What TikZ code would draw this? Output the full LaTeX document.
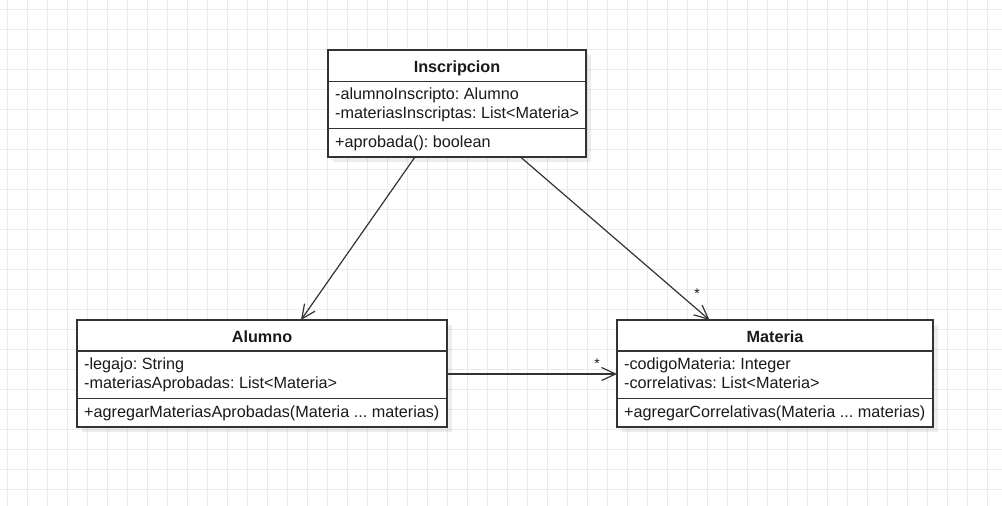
\documentclass[tikz,border=0pt]{standalone}
\usepackage{fontspec}
\setmainfont{Liberation Sans}
\frenchspacing
\usetikzlibrary{arrows.meta,shadows}
\definecolor{gridc}{HTML}{EBEBEB}
\definecolor{ink}{HTML}{1A1A1A}
\definecolor{edgec}{HTML}{333333}
\tikzset{
  gridline/.style={draw=gridc, line width=1.3pt},
  classbox/.style={draw=edgec, line width=1.15pt, fill=white, inner sep=0pt, outer sep=0pt,
    anchor=north west, drop shadow={shadow xshift=5pt, shadow yshift=-5pt, fill=black, opacity=0.07}},
  divider/.style={draw=edgec, line width=1.15pt},
  ctitle/.style={anchor=base, inner sep=0pt, text=ink, font=\fontsize{16.2}{20}\selectfont\bfseries},
  member/.style={anchor=base west, inner sep=0pt, text=ink, font=\fontsize{16.2}{20}\selectfont},
  assoc/.style={draw=edgec, line width=1.2pt, -{Straight Barb[length=14pt, width=13pt, line width=1.2pt]}},
  mult/.style={anchor=base, inner sep=0pt, text=ink, font=\fontsize{14}{16}\selectfont}
}
\begin{document}
\begin{tikzpicture}[x=1pt, y=-1pt]
\useasboundingbox (0,0) rectangle (1002,506);
\fill[white] (0,0) rectangle (1002,506);
% grid
\foreach \gx in {7.5,27.5,...,1000} \draw[gridline] (\gx,0) -- (\gx,506);
\foreach \gy in {9.5,29.5,...,506} \draw[gridline] (0,\gy) -- (1002,\gy);

% Inscripcion
\node[classbox, minimum width=258pt, minimum height=107pt] (ins) at (328,50) {};
\node[ctitle] (insT) at ([yshift=-22pt]ins.north) {Inscripcion};
\draw[divider] ([yshift=-31.5pt]ins.north west) -- ([yshift=-31.5pt]ins.north east);
\node[member] (insA1) at ([xshift=7pt,yshift=-49.5pt]ins.north west) {-alumnoInscripto: Alumno};
\node[member] (insA2) at ([xshift=7pt,yshift=-68.5pt]ins.north west) {-materiasInscriptas: List<Materia>};
\draw[divider] ([yshift=-78.5pt]ins.north west) -- ([yshift=-78.5pt]ins.north east);
\node[member] (insM1) at ([xshift=7pt,yshift=-97.5pt]ins.north west) {+aprobada(): boolean};

% Alumno
\node[classbox, minimum width=370pt, minimum height=107pt] (alu) at (77,320) {};
\node[ctitle] (aluT) at ([yshift=-22pt]alu.north) {Alumno};
\draw[divider] ([yshift=-31pt]alu.north west) -- ([yshift=-31pt]alu.north east);
\node[member] (aluA1) at ([xshift=7pt,yshift=-49.5pt]alu.north west) {-legajo: String};
\node[member] (aluA2) at ([xshift=7pt,yshift=-68.5pt]alu.north west) {-materiasAprobadas: List<Materia>};
\draw[divider] ([yshift=-78.5pt]alu.north west) -- ([yshift=-78.5pt]alu.north east);
\node[member] (aluM1) at ([xshift=7pt,yshift=-97.5pt]alu.north west) {+agregarMateriasAprobadas(Materia ... materias)};

% Materia
\node[classbox, minimum width=316pt, minimum height=107pt] (mat) at (617,320) {};
\node[ctitle] (matT) at ([yshift=-22pt]mat.north) {Materia};
\draw[divider] ([yshift=-31pt]mat.north west) -- ([yshift=-31pt]mat.north east);
\node[member] (matA1) at ([xshift=7pt,yshift=-49.5pt]mat.north west) {-codigoMateria: Integer};
\node[member] (matA2) at ([xshift=7pt,yshift=-68.5pt]mat.north west) {-correlativas: List<Materia>};
\draw[divider] ([yshift=-78.5pt]mat.north west) -- ([yshift=-78.5pt]mat.north east);
\node[member] (matM1) at ([xshift=7pt,yshift=-97.5pt]mat.north west) {+agregarCorrelativas(Materia ... materias)};

% associations
\draw[assoc] ([xshift=87pt]ins.south west) -- ([xshift=224pt]alu.north west);
\draw[assoc] ([xshift=192.5pt]ins.south west) -- ([xshift=92.5pt]mat.north west);
\draw[assoc] ([yshift=-54pt]alu.north east) -- ([yshift=-54pt]mat.north west);

% multiplicities
\node[mult] (m1) at (697,298.5) {*};
\node[mult] (m2) at (597,368) {*};
\end{tikzpicture}
\end{document}
